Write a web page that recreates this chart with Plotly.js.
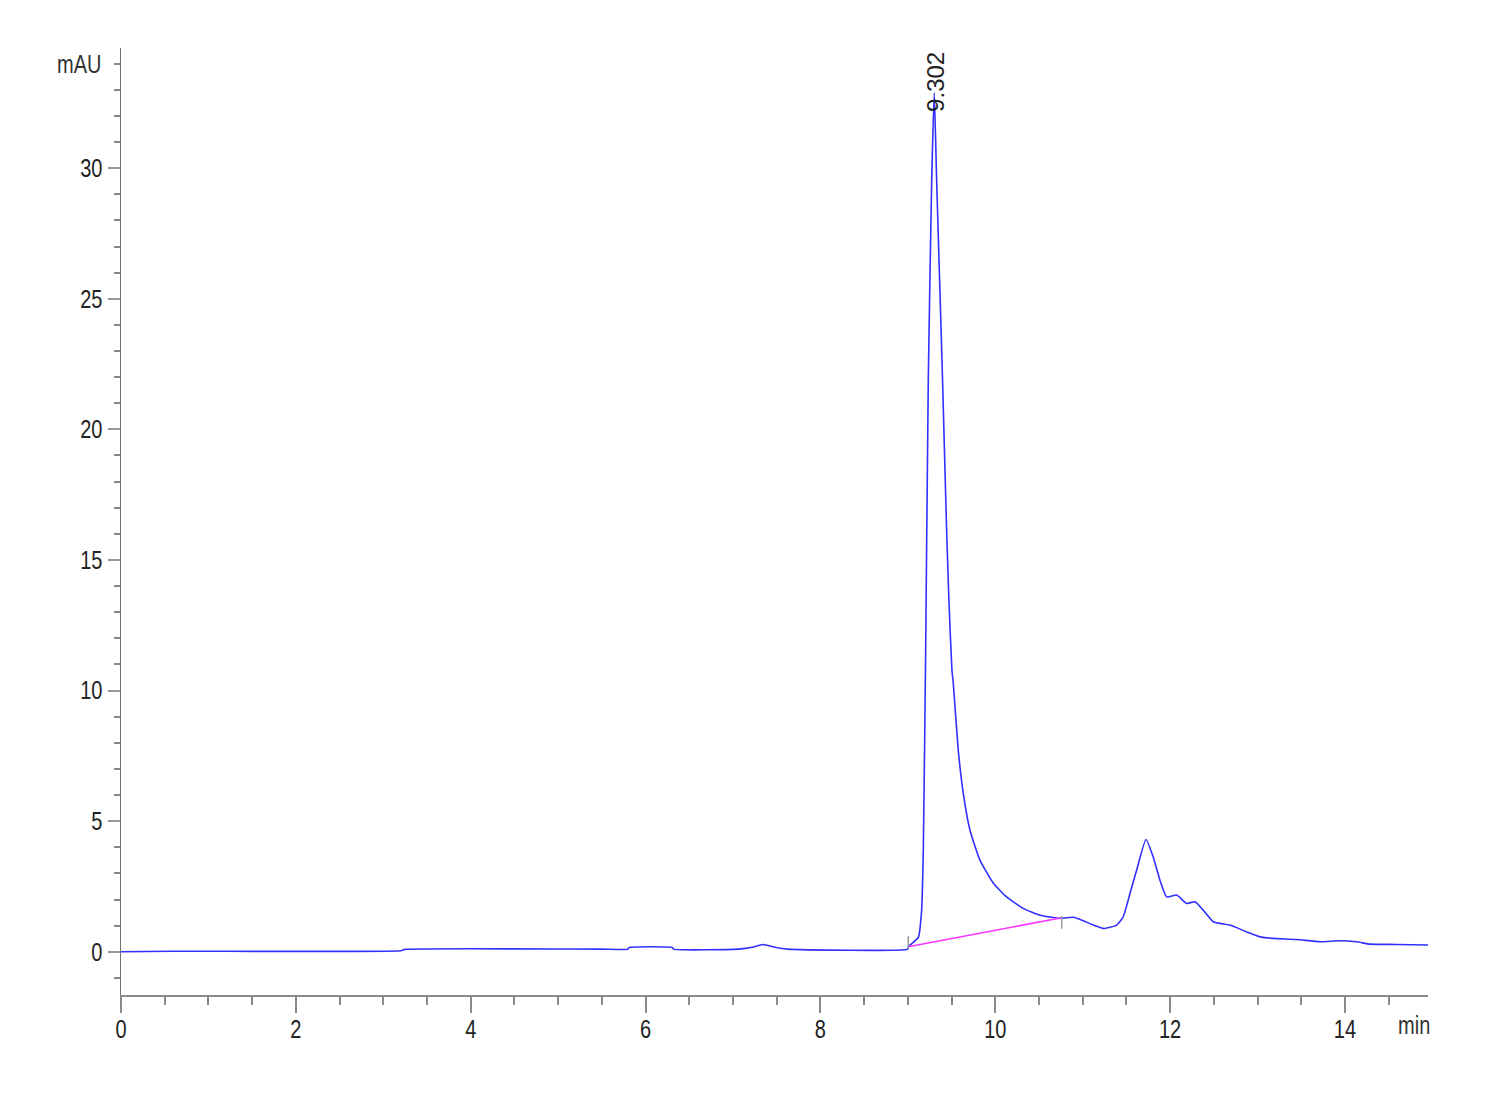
<!DOCTYPE html>
<html>
<head>
<meta charset="utf-8">
<script src="https://cdn.plot.ly/plotly-3.0.1.min.js"></script>
<style>
html,body{margin:0;padding:0;background:#fff;}
#chart{width:1500px;height:1100px;}
</style>
</head>
<body>
<div id="chart"></div>
<script>
// Chromatogram signal (time in min, absorbance in mAU)
var timeMin = [0, 0.6, 3.2, 3.25, 5.48, 5.80, 5.81, 6.31, 6.32, 7.06, 7.22, 7.34, 7.48, 7.62, 9.00,
  9.005, 9.12, 9.158, 9.177, 9.204, 9.234, 9.273, 9.302, 9.33, 9.396, 9.419, 9.444, 9.470, 9.505,
  9.520, 9.577, 9.634, 9.711, 9.825, 9.977, 10.130, 10.320, 10.511, 10.740, 10.892, 11.007, 11.121,
  11.235, 11.389, 11.464, 11.541, 11.617, 11.724, 11.807, 11.884, 11.960, 12.075, 12.189, 12.284,
  12.379, 12.493, 12.684, 12.875, 13.028, 13.180, 13.447, 13.714, 13.943, 14.134, 14.286, 14.591, 14.953];
var signalMAU = [0.0, 0.02, 0.04, 0.09, 0.10, 0.10, 0.16, 0.16, 0.10, 0.10, 0.17, 0.28, 0.17, 0.10, 0.10,
  0.19, 0.55, 1.59, 3.89, 11.54, 21.86, 29.5, 32.89, 29.5, 22.05, 19.19, 16.13, 13.45, 10.77,
  10.28, 7.71, 6.07, 4.65, 3.51, 2.63, 2.10, 1.66, 1.40, 1.28, 1.32, 1.19, 1.02,
  0.89, 1.02, 1.34, 2.23, 3.12, 4.30, 3.63, 2.74, 2.10, 2.17, 1.85, 1.91,
  1.59, 1.15, 1.02, 0.76, 0.57, 0.51, 0.47, 0.38, 0.42, 0.38, 0.29, 0.28, 0.26];

// Integration baseline of the main peak
var baselineTime = [9.005, 10.76];
var baselineMAU = [0.19, 1.30];
// Integration start / end markers
var markerTime = [9.005, 10.76];
var markerMAU = [0.36, 1.12];

// Peak annotation
var peakLabels = ["9.302"];
var peakTimes = [9.302];
var peakHeights = [32.89];

// Axis ticks
var xTickVals = [0, 2, 4, 6, 8, 10, 12, 14];
var xTickText = ["0", "2", "4", "6", "8", "10", "12", "14"];
var yTickVals = [0, 5, 10, 15, 20, 25, 30];
var yTickText = ["0", "5", "10", "15", "20", "25", "30"];

var sans = "Liberation Sans, Arial, sans-serif";

var traces = [
  {
    x: timeMin, y: signalMAU, type: 'scatter', mode: 'lines',
    line: {color: '#3030ff', width: 1.6, shape: 'spline', smoothing: 0.5}, showlegend: false
  },
  {
    x: baselineTime, y: baselineMAU, type: 'scatter', mode: 'lines',
    line: {color: '#ff33ff', width: 1.6}, showlegend: false
  },
  {
    x: markerTime, y: markerMAU, type: 'scatter', mode: 'markers',
    marker: {symbol: 'line-ns', size: 9, line: {color: '#999999', width: 1.5}}, showlegend: false
  }
];

var annotations = [];
for (var i = 0; i < peakLabels.length; i++) {
  annotations.push({
    x: peakTimes[i], y: peakHeights[i], xref: 'x', yref: 'y',
    text: peakLabels[i], showarrow: false, textangle: -90,
    xanchor: 'center', yanchor: 'bottom', yshift: -21, xshift: 1,
    font: {family: sans, size: 24, color: '#222'}
  });
}
annotations.push({
  x: 0, y: 34, xref: 'paper', yref: 'y', text: 'mAU', showarrow: false,
  xanchor: 'right', yanchor: 'middle', xshift: -17,
  font: {family: sans, size: 25, color: '#333'}, name: 'narrow'
});
annotations.push({
  x: 1, y: 0, xref: 'paper', yref: 'paper', text: 'min', showarrow: false,
  xanchor: 'right', yanchor: 'top', yshift: -17, xshift: 4,
  font: {family: sans, size: 25, color: '#333'}, name: 'narrow'
});

var layout = {
  width: 1500, height: 1100,
  paper_bgcolor: '#ffffff', plot_bgcolor: '#ffffff',
  margin: {l: 121, r: 72, t: 48, b: 105},
  showlegend: false,
  xaxis: {
    range: [0, 14.95], showgrid: false, zeroline: false,
    showline: true, linecolor: '#8a8a8a', linewidth: 2,
    ticks: 'outside', ticklen: 16, tickwidth: 2, tickcolor: '#8a8a8a',
    tickmode: 'array', tickvals: xTickVals, ticktext: xTickText,
    minor: {dtick: 0.5, tick0: 0, ticks: 'outside', ticklen: 8, tickwidth: 2, tickcolor: '#8a8a8a', showgrid: false},
    tickfont: {family: sans, size: 25, color: '#222'}
  },
  yaxis: {
    range: [-1.656, 34.6], showgrid: false, zeroline: false,
    showline: true, linecolor: '#707070', linewidth: 1.5,
    ticks: 'outside', ticklen: 12, tickwidth: 2, tickcolor: '#999999',
    tickmode: 'array', tickvals: yTickVals, ticktext: yTickText,
    minor: {dtick: 1, tick0: 0, ticks: 'outside', ticklen: 6, tickwidth: 2, tickcolor: '#888888', showgrid: false},
    tickfont: {family: sans, size: 25, color: '#222'}
  },
  annotations: annotations
};

// Horizontally condense the horizontal texts (the reference uses a narrow face)
function condense(el, anchor, dy) {
  var bb = el.getBBox();
  var ax = anchor === 'end' ? bb.x + bb.width : (anchor === 'start' ? bb.x : bb.x + bb.width / 2);
  var t = el.getAttribute('transform') || '';
  el.setAttribute('transform', t + ' translate(' + ax + ',' + (dy || 0) + ') scale(0.8,1) translate(' + (-ax) + ',0)');
}

Plotly.newPlot('chart', traces, layout, {displayModeBar: false, staticPlot: true}).then(function (gd) {
  gd.querySelectorAll('.xtick text').forEach(function (el) { condense(el, 'middle', -5); });
  gd.querySelectorAll('.ytick text').forEach(function (el) { condense(el, 'end', 0); });
  var ann = gd.querySelectorAll('.annotation-text');
  ann.forEach(function (el) {
    var s = el.textContent;
    if (s === 'mAU') condense(el, 'end', 0);
    if (s === 'min') condense(el, 'end', -3);
  });
});
</script>
</body>
</html>
